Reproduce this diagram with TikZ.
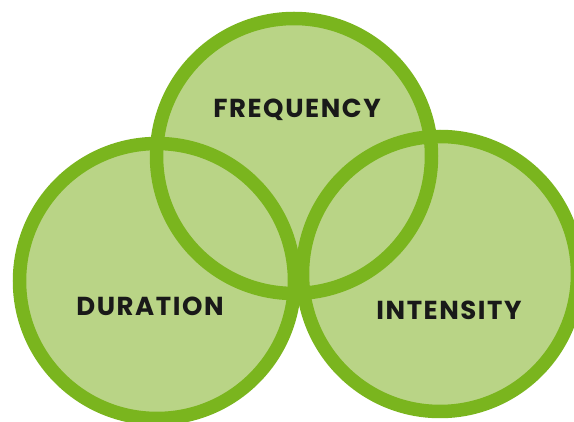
\documentclass[tikz,border=0pt]{standalone}
\usepackage{fontspec}
\setmainfont{Poppins}
\usepackage{tikz}
\definecolor{ringgreen}{HTML}{7AB51E}
\definecolor{leafgreen}{HTML}{B9D486}

\begin{document}
\begin{tikzpicture}[
  blob/.style={fill=leafgreen},
  ring/.style={draw=ringgreen, line width=13.5pt},
  tag/.style={font=\bfseries\fontsize{26}{30}\selectfont\addfontfeatures{LetterSpace=6}, text=black!90}]

\useasboundingbox (0pt,0pt) rectangle (574pt,-422pt);

% fills first, rings on top
\fill [blob] (294pt,-156pt) circle (137.5pt);
\fill [blob] (157pt,-281pt) circle (137.5pt);
\fill [blob] (440pt,-274pt) circle (137.5pt);

\draw [ring] (294pt,-156pt) circle (137.5pt);
\draw [ring] (157pt,-281pt) circle (137.5pt);
\draw [ring] (440pt,-274pt) circle (137.5pt);

\node [tag] (frequency) at (297pt,-110pt) {FREQUENCY};
\node [tag] (duration) at (150pt,-306pt) {DURATION};
\node [tag] (intensity) at (449pt,-310pt) {INTENSITY};

\end{tikzpicture}
\end{document}
